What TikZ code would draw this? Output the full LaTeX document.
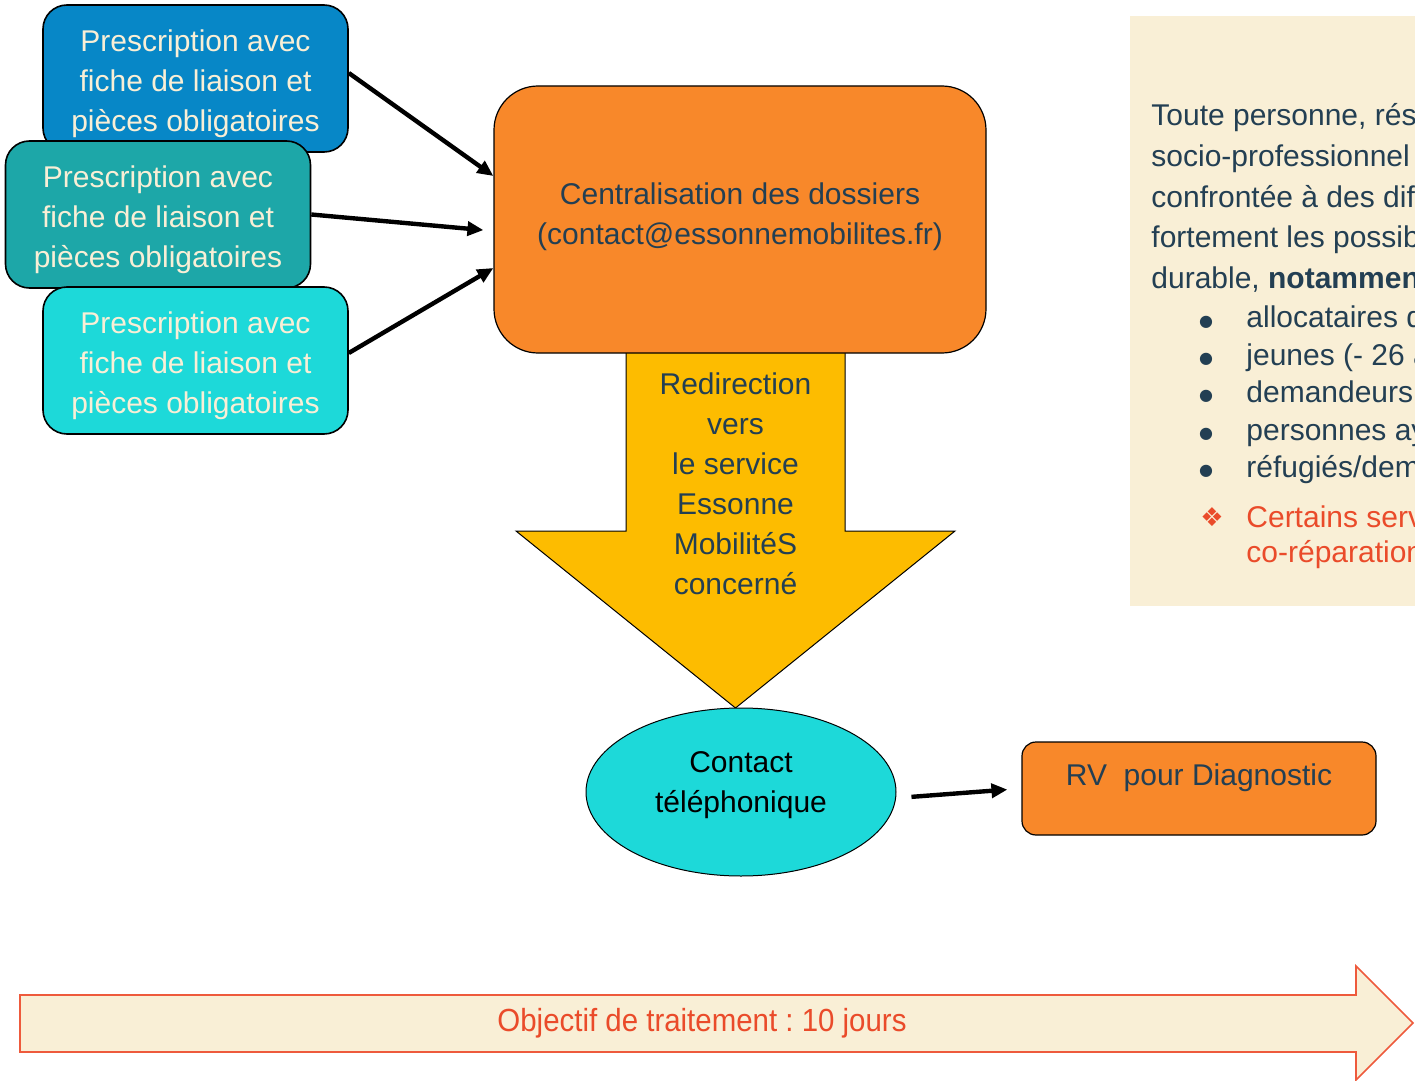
\documentclass[tikz,border=0pt]{standalone}
\usepackage{fontspec}
\setmainfont{Liberation Sans}
\newfontfamily\symfont{DejaVu Sans}
\usetikzlibrary{arrows.meta,shapes.geometric}
\frenchspacing

\definecolor{presblue}{RGB}{7,135,199}
\definecolor{presteal}{RGB}{29,167,168}
\definecolor{prescyan}{RGB}{29,217,217}
\definecolor{cream}{RGB}{249,239,214}
\definecolor{orangebox}{RGB}{248,136,42}
\definecolor{yellowarrow}{RGB}{253,188,0}
\definecolor{darkslate}{RGB}{35,63,83}
\definecolor{redtext}{RGB}{234,75,42}
\definecolor{redline}{RGB}{238,90,60}

\begin{document}
\begin{tikzpicture}[x=0.5pt,y=-0.5pt,
  txt/.style={font=\fontsize{15}{20}\selectfont, align=center, inner sep=0pt},
  presc/.style={txt, draw=black, line width=0.8pt, rounded corners=12pt,
    minimum width=152.5pt, minimum height=73.5pt, text=cream},
  link/.style={line width=2.2pt, -{Triangle[length=8pt,width=7pt]}},
  panel/.style={anchor=base west, inner sep=0pt, font=\fontsize{15}{20}\selectfont, text=darkslate},
  dot/.style={panel, anchor=base, font=\symfont\fontsize{8}{10}\selectfont}]
  % 0. Fix the page
  \useasboundingbox (0,0) rectangle (1415,1081);

  % 1. The big yellow arrow, under the centralisation box
  \draw[fill=yellowarrow, line width=0.5pt] (626,353) -- (626,531) -- (516,531)
    -- (735.5,708) -- (955,531) -- (845,531) -- (845,353);
  \node[txt, text=darkslate] (redir) at (735.5,484)
    {Redirection\\vers\\le service\\Essonne\\MobilitéS\\concerné};

  % 2. The three prescriptions and the centralisation
  \node[presc, fill=presblue] (p1) at (195.5,78.5) {\rule{0pt}{16pt}Prescription avec\\fiche de liaison et\\pièces obligatoires};
  \node[presc, fill=presteal] (p2) at (158,214.5) {\rule{0pt}{16pt}Prescription avec\\fiche de liaison et\\pièces obligatoires};
  \node[presc, fill=prescyan] (p3) at (195.5,360.5) {\rule{0pt}{16pt}Prescription avec\\fiche de liaison et\\pièces obligatoires};
  \node[txt, draw=black, line width=0.6pt, fill=orangebox, rounded corners=22pt,
    minimum width=246pt, minimum height=133.5pt, text=darkslate] (centr) at (740,219.5)
    {Centralisation des dossiers\\(contact@essonnemobilites.fr)\rule[-6pt]{0pt}{6pt}};

  \draw[link] ([yshift=2.75pt]p1.east) -- ([yshift=21.75pt]centr.west);
  \draw[link, shorten >=5pt] (p2.east) -- ([yshift=-5.75pt]centr.west);
  \draw[link] ([yshift=3.75pt]p3.east) -- ([yshift=-24.25pt]centr.west);

  % 3. The call and the appointment
  \node[txt, ellipse, draw=black, line width=0.5pt, fill=prescyan,
    minimum width=155pt, minimum height=84pt] (call) at (741,792)
    {Contact\\téléphonique\rule[-10pt]{0pt}{10pt}};
  \node[draw=black, line width=0.6pt, fill=orangebox, rounded corners=7pt,
    minimum width=177pt, minimum height=46.5pt] (rv) at (1199,788.5) {};
  \node[txt, text=darkslate] (rvtext) at (1199,778) {RV\ \ pour Diagnostic};
  \draw[link, shorten <=7.5pt, shorten >=7pt] ([yshift=-3pt]call.east) -- (rv.west);

  % 4. The panel on the right, cut by the page edge
  \fill[cream] (1130,16) rectangle (1415,606);
  \begin{scope}
    \clip (1130,16) rectangle (1415,606);
    \node[panel] (l1) at (1151,126) {Toute personne, rési};
    \node[panel] (l2) at (1151,167) {socio-professionnel};
    \node[panel] (l3) at (1151,207) {confrontée à des dif};
    \node[panel] (l4) at (1151,248) {fortement les possib};
    \node[panel] (l5) at (1151,288) {durable, \textbf{notamment}};
    \node[dot] (b1) at (1206,326) {●};
    \node[dot] (b2) at (1206,363) {●};
    \node[dot] (b3) at (1206,400) {●};
    \node[dot] (b4) at (1206,438) {●};
    \node[dot] (b5) at (1206,475) {●};
    \node[panel] (i1) at (1246,328) {allocataires d};
    \node[panel] (i2) at (1246,365) {jeunes (- 26 a};
    \node[panel] (i3) at (1246,402) {demandeurs};
    \node[panel] (i4) at (1246,440) {personnes ay};
    \node[panel] (i5) at (1246,477) {réfugiés/dem};
    \node[panel, anchor=base, text=redtext, font=\symfont\fontsize{13}{16}\selectfont] (star) at (1212,526) {❖};
    \node[panel, text=redtext] (r1) at (1246,527) {Certains serv};
    \node[panel, text=redtext] (r2) at (1246,562) {co-réparation};
  \end{scope}

  % 5. The deadline arrow
  \draw[draw=redline, fill=cream, line width=0.8pt] (20,995) -- (1356,995) -- (1356,966)
    -- (1413,1023) -- (1356,1080) -- (1356,1052) -- (20,1052) -- cycle;
  \node[txt, text=redtext, font=\fontsize{16}{20}\selectfont] (goal) at (702,1023)
    {\scalebox{0.92}[1]{Objectif de traitement : 10 jours}};
\end{tikzpicture}
\end{document}
